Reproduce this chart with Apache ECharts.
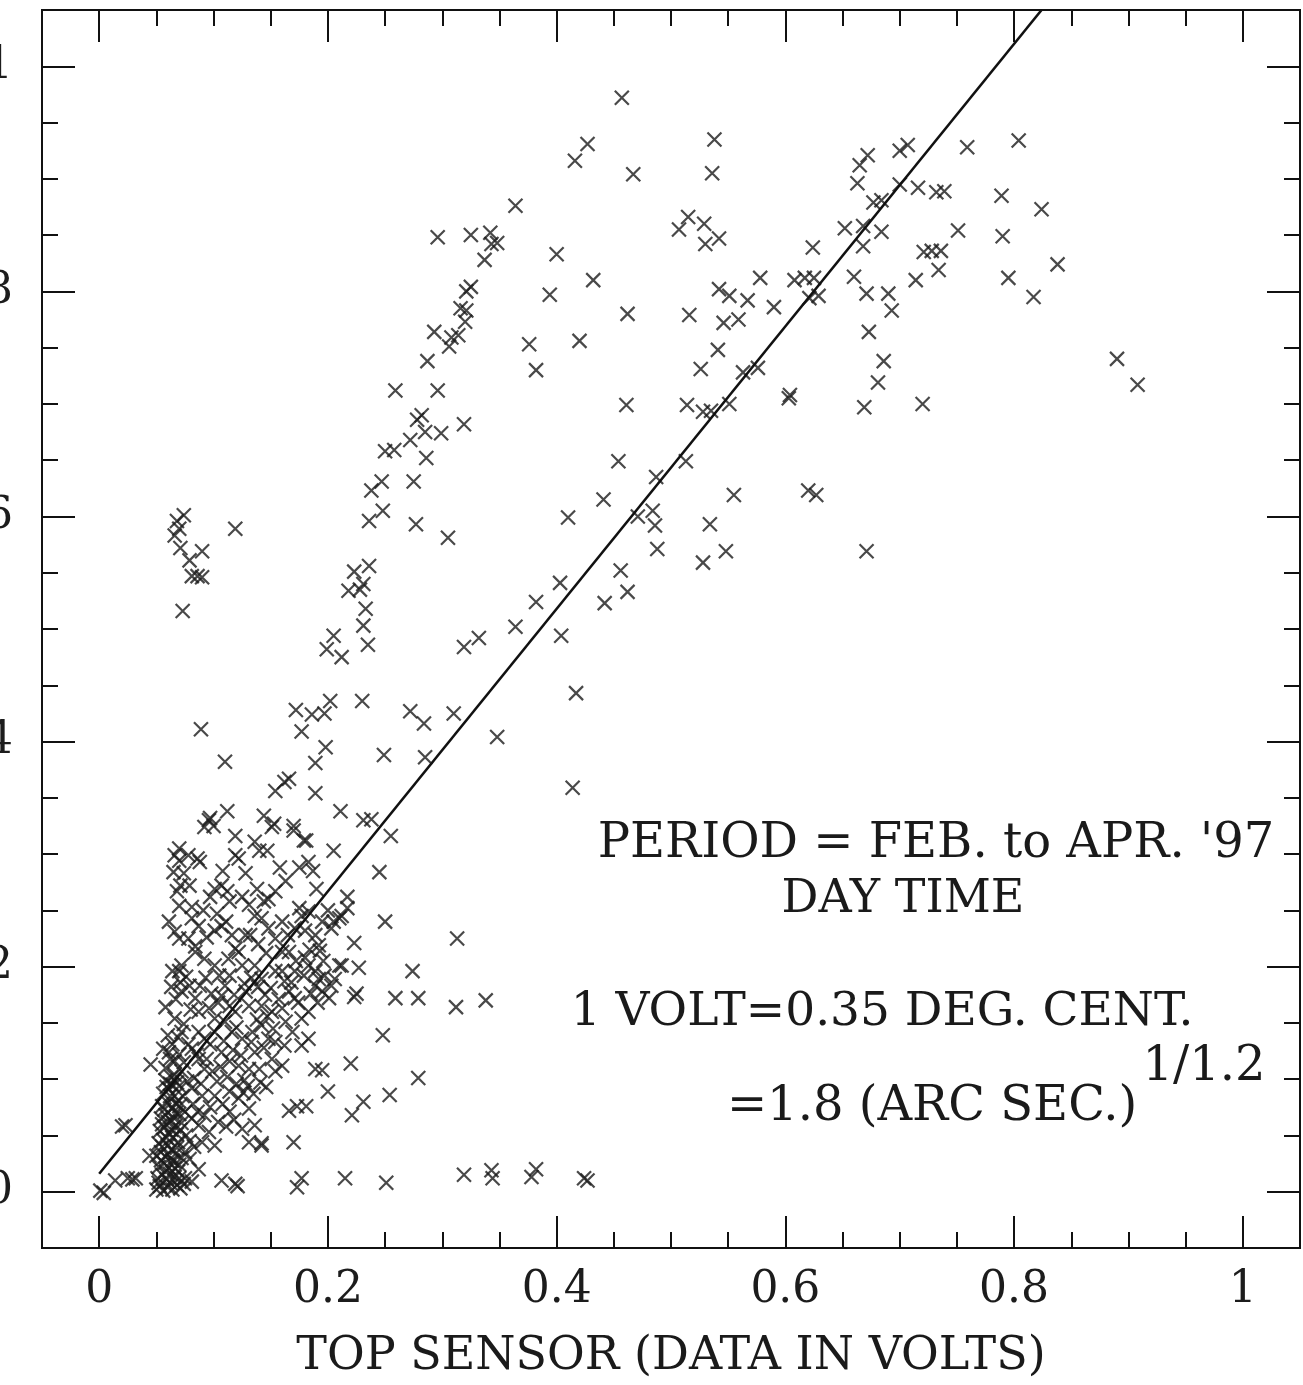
<!DOCTYPE html>
<html>
<head>
<meta charset="utf-8">
<script src="https://cdn.jsdelivr.net/npm/echarts/dist/echarts.min.js"></script>
<style>
html,body{margin:0;padding:0;background:#fff;}
#chart{width:1303px;height:1385px;}
</style>
</head>
<body>
<div id="chart"></div>
<script>
// ---- tick values ----
const majorTicks = [0, 0.2, 0.4, 0.6, 0.8, 1];
const minorTicks = [0.05, 0.1, 0.15, 0.25, 0.3, 0.35, 0.45, 0.5, 0.55, 0.65, 0.7, 0.75, 0.85, 0.9, 0.95];

// ---- fitted line ----
const fitLine = [[0, 0.016], [0.824, 1.05]];

// ---- data points [top sensor, other sensor] ----
const upperLeftPts = [
  [0.457,0.972],[0.427,0.931],[0.416,0.916],[0.467,0.904],[0.538,0.935],[0.536,0.905],
  [0.364,0.876],[0.296,0.848],[0.325,0.850],[0.342,0.852],[0.343,0.842],[0.348,0.843],
  [0.337,0.828],[0.325,0.804],[0.321,0.800],[0.316,0.785],[0.321,0.783],[0.320,0.773],
  [0.293,0.764],[0.308,0.759],[0.314,0.761],[0.306,0.751],[0.287,0.738],[0.259,0.712],
  [0.296,0.712],[0.282,0.690],[0.278,0.686],[0.285,0.675],[0.299,0.674],[0.319,0.682],
  [0.272,0.668],[0.250,0.658],[0.258,0.659],[0.286,0.652],[0.238,0.623],[0.247,0.631],
  [0.275,0.631],[0.248,0.605],[0.236,0.596],[0.277,0.593],[0.400,0.833],[0.432,0.810],
  [0.394,0.797],[0.462,0.780],[0.376,0.753],[0.420,0.756],[0.382,0.730],[0.461,0.699]
];
const upperMidPts = [
  [0.515,0.866],[0.507,0.855],[0.529,0.860],[0.530,0.842],[0.542,0.847],[0.624,0.839],
  [0.578,0.812],[0.542,0.802],[0.551,0.796],[0.567,0.792],[0.590,0.786],[0.608,0.810],
  [0.617,0.812],[0.625,0.812],[0.621,0.794],[0.629,0.796],[0.516,0.779],[0.546,0.772],
  [0.559,0.775],[0.541,0.748],[0.526,0.731],[0.563,0.728],[0.576,0.732],[0.603,0.705],
  [0.604,0.708],[0.514,0.699],[0.528,0.693],[0.535,0.694],[0.551,0.700]
];
const upperRightPts = [
  [0.804,0.934],[0.759,0.928],[0.700,0.925],[0.707,0.930],[0.672,0.921],[0.665,0.912],
  [0.663,0.896],[0.700,0.895],[0.716,0.892],[0.732,0.888],[0.739,0.889],[0.789,0.885],
  [0.824,0.873],[0.677,0.879],[0.684,0.881],[0.652,0.856],[0.668,0.858],[0.668,0.840],
  [0.684,0.853],[0.751,0.854],[0.790,0.849],[0.721,0.835],[0.728,0.836],[0.736,0.836],
  [0.734,0.819],[0.714,0.810],[0.795,0.812],[0.838,0.824],[0.660,0.813],[0.671,0.798],
  [0.690,0.798],[0.693,0.783],[0.817,0.795],[0.673,0.764],[0.686,0.738],[0.681,0.719],
  [0.669,0.697],[0.720,0.700],[0.890,0.740],[0.908,0.717]
];
const middlePts = [
  [0.074,0.601],[0.068,0.596],[0.070,0.589],[0.066,0.583],[0.119,0.589],[0.071,0.572],
  [0.090,0.569],[0.079,0.561],[0.081,0.547],[0.090,0.546],[0.086,0.547],[0.073,0.516],
  [0.305,0.581],[0.223,0.551],[0.236,0.556],[0.218,0.534],[0.228,0.535],[0.231,0.540],
  [0.233,0.518],[0.231,0.503],[0.235,0.486],[0.205,0.494],[0.199,0.482],[0.212,0.475],
  [0.319,0.484],[0.332,0.492],[0.172,0.428],[0.186,0.424],[0.197,0.425],[0.202,0.436],
  [0.177,0.409],[0.230,0.436],[0.272,0.427],[0.284,0.416],[0.310,0.425],[0.089,0.411],
  [0.110,0.382],[0.198,0.395],[0.189,0.381],[0.249,0.388],[0.285,0.386],[0.348,0.404],
  [0.154,0.356],[0.162,0.364],[0.166,0.367],[0.189,0.354],[0.211,0.338],[0.097,0.332],
  [0.112,0.338],[0.144,0.334],[0.153,0.327],[0.170,0.325],[0.231,0.330],[0.238,0.331]
];
const middleRightPts = [
  [0.454,0.649],[0.487,0.635],[0.513,0.649],[0.441,0.615],[0.410,0.599],[0.471,0.600],
  [0.484,0.605],[0.486,0.592],[0.555,0.619],[0.620,0.623],[0.627,0.619],[0.534,0.593],
  [0.488,0.571],[0.548,0.569],[0.528,0.559],[0.403,0.541],[0.456,0.552],[0.462,0.533],
  [0.382,0.524],[0.442,0.523],[0.364,0.502],[0.404,0.494],[0.417,0.443],[0.414,0.359],
  [0.671,0.569]
];
const lowerPts = [
  [0.181,0.312],[0.183,0.293],[0.205,0.303],[0.255,0.316],[0.245,0.284],[0.190,0.269],
  [0.217,0.262],[0.250,0.240],[0.223,0.221],[0.313,0.225],[0.227,0.199],[0.212,0.201],
  [0.274,0.196],[0.223,0.173],[0.225,0.176],[0.259,0.172],[0.279,0.172],[0.312,0.164],
  [0.338,0.170],[0.248,0.139],[0.220,0.114],[0.195,0.108],[0.279,0.101],[0.200,0.089],
  [0.254,0.086],[0.231,0.080],[0.221,0.068],[0.181,0.076],[0.177,0.012],[0.215,0.012],
  [0.251,0.008],[0.319,0.015],[0.343,0.019],[0.344,0.012],[0.378,0.013],[0.382,0.020],
  [0.424,0.012],[0.427,0.010],[0.173,0.004],[0.001,0.001],[0.004,-0.001],[0.014,0.010],
  [0.025,0.012],[0.032,0.012],[0.029,0.011],[0.020,0.058],[0.023,0.059],[0.045,0.113],
  [0.044,0.032],[0.074,0.007],[0.081,0.009],[0.107,0.010],[0.119,0.007],[0.121,0.005],
  [0.170,0.044],[0.142,0.043],[0.166,0.072],[0.173,0.076],[0.058,0.164]
];
const clusterPts = [
  [0.096,0.330],[0.100,0.325],[0.092,0.324],[0.119,0.316],[0.119,0.299],[0.151,0.324],
  [0.136,0.311],[0.140,0.303],[0.147,0.303],[0.170,0.321],[0.179,0.312],[0.175,0.288],
  [0.070,0.305],[0.066,0.299],[0.070,0.294],[0.088,0.293],[0.086,0.296],[0.122,0.296],
  [0.068,0.267],[0.071,0.272],[0.079,0.272],[0.070,0.254],[0.081,0.253],[0.101,0.269],
  [0.107,0.272],[0.112,0.267],[0.114,0.258],[0.125,0.262],[0.138,0.269],[0.154,0.267],
  [0.148,0.260],[0.175,0.252],[0.183,0.249],[0.205,0.240],[0.210,0.243],
  [0.061,0.240],[0.066,0.231],[0.070,0.225],[0.081,0.243],[0.087,0.236],[0.084,0.218],
  [0.101,0.232],[0.107,0.236],[0.119,0.216],[0.128,0.228],[0.132,0.228],[0.136,0.245],
  [0.142,0.243],[0.148,0.234],[0.154,0.225],[0.166,0.213],[0.160,0.213],[0.171,0.234],
  [0.177,0.245],[0.189,0.228],[0.192,0.219],[0.203,0.234],[0.212,0.245],[0.217,0.252],
  [0.064,0.196],[0.070,0.196],[0.072,0.201],[0.084,0.213],[0.092,0.207],[0.101,0.201],
  [0.105,0.192],[0.114,0.192],[0.122,0.213],[0.125,0.201],[0.136,0.201],[0.142,0.189],
  [0.154,0.196],[0.162,0.187],[0.171,0.196],[0.183,0.201],[0.189,0.196],[0.192,0.189],
  [0.197,0.192],[0.203,0.183],[0.206,0.189],[0.210,0.201],
  [0.072,0.178],[0.079,0.183],[0.084,0.172],[0.087,0.160],[0.096,0.163],[0.101,0.154],
  [0.107,0.174],[0.114,0.165],[0.119,0.160],[0.128,0.178],[0.131,0.165],[0.142,0.165],
  [0.151,0.160],[0.160,0.163],[0.166,0.178],[0.171,0.172],[0.177,0.154],[0.183,0.160],
  [0.189,0.183],[0.195,0.178],[0.201,0.172],
  [0.066,0.154],[0.072,0.142],[0.087,0.142],[0.092,0.136],[0.101,0.142],[0.110,0.151],
  [0.116,0.142],[0.125,0.136],[0.134,0.142],[0.142,0.148],[0.148,0.136],[0.154,0.133],
  [0.162,0.130],[0.169,0.142],[0.151,0.118],[0.160,0.112],[0.154,0.107],[0.177,0.130],
  [0.183,0.136],[0.189,0.109],
  [0.061,0.124],[0.066,0.116],[0.072,0.107],[0.081,0.127],[0.087,0.118],[0.092,0.109],
  [0.099,0.107],[0.107,0.124],[0.114,0.116],[0.122,0.112],[0.131,0.109],[0.136,0.124],
  [0.140,0.109],
  [0.075,0.071],[0.081,0.065],[0.087,0.059],[0.096,0.053],[0.090,0.044],[0.101,0.041],
  [0.114,0.071],[0.125,0.056],[0.131,0.044],[0.142,0.041],[0.114,0.089],[0.122,0.083],
  [0.131,0.074],[0.136,0.059],[0.081,0.092],[0.090,0.085],[0.101,0.085],[0.079,0.029],
  [0.087,0.020],[0.075,0.012]
];
const clusterExtraPts = [
  [0.058,0.110],[0.062,0.118],[0.064,0.131],[0.069,0.137],[0.074,0.149],[0.078,0.131],
  [0.083,0.101],[0.085,0.122],[0.089,0.096],[0.094,0.118],[0.097,0.131],[0.103,0.098],
  [0.106,0.111],[0.109,0.134],[0.112,0.102],[0.117,0.126],[0.120,0.146],[0.124,0.121],
  [0.127,0.099],[0.133,0.133],[0.138,0.153],[0.144,0.128],[0.147,0.156],[0.152,0.145],
  [0.157,0.171],[0.163,0.151],[0.168,0.186],[0.174,0.168],[0.179,0.192],[0.185,0.176],
  [0.191,0.168],[0.196,0.205],[0.180,0.208],[0.172,0.205],[0.160,0.196],[0.150,0.181],
  [0.145,0.175],[0.139,0.182],[0.133,0.190],[0.127,0.185],[0.118,0.175],[0.110,0.183],
  [0.104,0.168],[0.098,0.176],[0.093,0.190],[0.088,0.183],[0.080,0.162],[0.076,0.191],
  [0.071,0.186],[0.067,0.171],[0.063,0.182],[0.060,0.139],[0.056,0.127],[0.062,0.096],
  [0.066,0.104],[0.073,0.085],[0.077,0.098],[0.082,0.078],[0.086,0.071],[0.092,0.068],
  [0.097,0.075],[0.104,0.062],[0.108,0.078],[0.111,0.058],[0.118,0.064],[0.120,0.096],
  [0.126,0.088],[0.130,0.094],[0.135,0.087],[0.141,0.097],[0.146,0.093],[0.076,0.050],
  [0.083,0.040],[0.079,0.045],[0.072,0.061],[0.075,0.035],[0.070,0.076],[0.074,0.115],
  [0.070,0.122],[0.078,0.225],[0.091,0.250],[0.097,0.262],[0.103,0.247],[0.111,0.240],
  [0.116,0.228],[0.131,0.255],[0.144,0.258],[0.160,0.240],[0.165,0.228],[0.180,0.232],
  [0.184,0.215],[0.195,0.240],[0.200,0.250],[0.074,0.283],[0.078,0.299],[0.065,0.284],
  [0.158,0.288],[0.163,0.276],[0.128,0.283],[0.108,0.285],[0.187,0.285],[0.193,0.214],
  [0.146,0.212],[0.139,0.220],[0.113,0.207],[0.094,0.226]
];
const columnPts = [
  [0.050,0.002],[0.053,0.005],[0.056,0.001],[0.060,0.004],[0.064,0.002],[0.068,0.006],[0.071,0.003],
  [0.051,0.012],[0.055,0.015],[0.059,0.011],[0.062,0.016],[0.066,0.013],[0.069,0.018],
  [0.052,0.022],[0.057,0.025],[0.061,0.021],[0.065,0.027],[0.070,0.024],
  [0.050,0.032],[0.054,0.035],[0.058,0.031],[0.063,0.037],[0.067,0.034],[0.072,0.030],
  [0.052,0.043],[0.056,0.046],[0.060,0.041],[0.064,0.048],[0.069,0.044],
  [0.053,0.054],[0.057,0.057],[0.061,0.052],[0.066,0.058],[0.071,0.055],
  [0.054,0.065],[0.058,0.068],[0.063,0.063],[0.067,0.070],
  [0.055,0.076],[0.060,0.079],[0.064,0.074],[0.069,0.081],
  [0.056,0.087],[0.061,0.091],[0.066,0.085],[0.070,0.094],
  [0.058,0.099],[0.063,0.102],[0.068,0.097],
  [0.052,0.008],[0.058,0.018],[0.062,0.008],[0.066,0.021],[0.070,0.012],[0.054,0.028],
  [0.060,0.033],[0.064,0.028],[0.068,0.039],[0.055,0.040],[0.059,0.048],[0.063,0.055],
  [0.068,0.051],[0.055,0.060],[0.060,0.062],[0.065,0.066],[0.070,0.069],[0.057,0.073],
  [0.062,0.085],[0.067,0.078],[0.059,0.093],[0.064,0.095]
];

const allPts = [].concat(upperLeftPts, upperMidPts, upperRightPts, middlePts,
  middleRightPts, lowerPts, clusterPts, clusterExtraPts, columnPts);

const FONT = 'DejaVu Serif';
const INK = '#111';
const fmt = v => String(+(+v).toFixed(2));

function axis(dim, position, ticks, len, showLabel, extra) {
  return Object.assign({
    type: 'value', min: -0.05, max: 1.05, position: position,
    axisLine: { show: true, onZero: false, lineStyle: { color: INK, width: 2 } },
    axisTick: { show: true, inside: true, length: len, customValues: ticks,
      lineStyle: { color: INK, width: 2 } },
    axisLabel: showLabel ? {
      show: true, customValues: majorTicks, formatter: fmt,
      fontFamily: FONT, fontSize: 44, color: '#1c1c1c',
      margin: dim === 'x' ? 21 : 29
    } : { show: false },
    splitLine: { show: false }
  }, extra || {});
}

function note(text, x, y, size) {
  return { type: 'text', x: x, y: y, silent: true,
    style: { text: text, font: size + 'px "DejaVu Serif"', fill: '#1a1a1a',
      align: 'center', verticalAlign: 'middle',
      textAlign: 'center', textVerticalAlign: 'middle' } };
}

const chart = echarts.init(document.getElementById('chart'), null, { renderer: 'canvas' });
chart.setOption({
  backgroundColor: '#fff',
  animation: false,
  grid: { left: 42, right: 3, top: 10, bottom: 137, containLabel: false, outerBoundsMode: 'none' },
  xAxis: [
    axis('x', 'bottom', majorTicks, 32, true, {
      name: 'TOP SENSOR (DATA IN VOLTS)', nameLocation: 'middle', nameGap: 86,
      nameTextStyle: { fontFamily: FONT, fontSize: 46, color: '#1a1a1a' }
    }),
    axis('x', 'bottom', minorTicks, 16, false),
    axis('x', 'top', majorTicks, 32, false),
    axis('x', 'top', minorTicks, 16, false)
  ],
  yAxis: [
    axis('y', 'left', majorTicks, 33, true),
    axis('y', 'left', minorTicks, 16, false),
    axis('y', 'right', majorTicks, 33, false),
    axis('y', 'right', minorTicks, 16, false)
  ],
  series: [
    {
      type: 'scatter', xAxisIndex: 0, yAxisIndex: 0,
      data: allPts,
      symbol: 'path://M0,0L10,10M10,0L0,10',
      symbolSize: 14,
      itemStyle: { color: 'rgba(0,0,0,0)', borderColor: '#1c1c1c', borderWidth: 2.2 },
      silent: true
    },
    {
      type: 'line', xAxisIndex: 0, yAxisIndex: 0,
      data: fitLine, symbol: 'none', clip: true,
      lineStyle: { color: INK, width: 2.6 }, silent: true
    }
  ],
  graphic: [
    note("PERIOD = FEB. to APR. '97", 936, 845, 48),
    note('DAY TIME', 903, 900, 46),
    note('1 VOLT=0.35 DEG. CENT.', 882, 1013, 47),
    note('=1.8 (ARC SEC.)', 932, 1108, 48),
    note('1/1.2', 1204, 1068, 48)
  ]
});
</script>
</body>
</html>
